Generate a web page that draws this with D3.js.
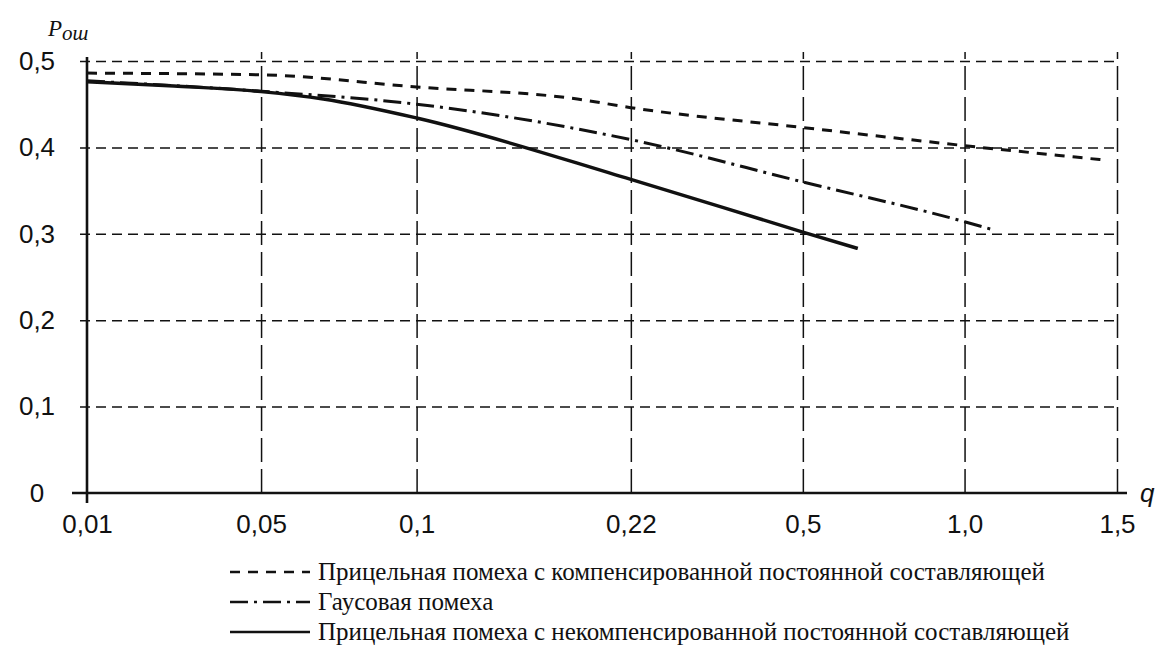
<!DOCTYPE html>
<html>
<head>
<meta charset="utf-8">
<script src="https://cdn.jsdelivr.net/npm/d3@7"></script>
<style>
  html, body { margin: 0; padding: 0; background: #fff; }
  svg { display: block; }
  .tick-label { font-family: "Liberation Sans", Arial, sans-serif; font-size: 26px; fill: #111; }
  .legend-text { font-family: "Liberation Serif", "Times New Roman", serif; font-size: 25px; fill: #111; }
</style>
</head>
<body>
<svg id="chart" width="1164" height="652"></svg>
<script>
// Значения оси q (неравномерная шкала, как на рисунке)
const qTicks = [0.01, 0.05, 0.1, 0.22, 0.5, 1.0, 1.5];
const qLabels = ["0,01", "0,05", "0,1", "0,22", "0,5", "1,0", "1,5"];
const pTicks = [0, 0.1, 0.2, 0.3, 0.4, 0.5];
const pLabels = ["0", "0,1", "0,2", "0,3", "0,4", "0,5"];

// Прицельная помеха с компенсированной постоянной составляющей
const compensated = [
  { q: 0.01, p: 0.486 }, { q: 0.05, p: 0.484 }, { q: 0.1, p: 0.470 },
  { q: 0.19, p: 0.456 }, { q: 0.22, p: 0.446 }, { q: 0.5, p: 0.423 },
  { q: 1.0, p: 0.402 }, { q: 1.47, p: 0.385 }
];
// Гаусовая помеха
const gaussian = [
  { q: 0.01, p: 0.477 }, { q: 0.05, p: 0.465 }, { q: 0.1, p: 0.450 },
  { q: 0.22, p: 0.409 }, { q: 0.5, p: 0.360 }, { q: 1.0, p: 0.314 },
  { q: 1.1, p: 0.304 }
];
// Прицельная помеха с некомпенсированной постоянной составляющей
const uncompensated = [
  { q: 0.01, p: 0.476 }, { q: 0.03, p: 0.471 }, { q: 0.05, p: 0.4645 },
  { q: 0.07, p: 0.456 }, { q: 0.1, p: 0.434 }, { q: 0.22, p: 0.363 },
  { q: 0.5, p: 0.302 }, { q: 0.67, p: 0.283 }
];

const legendItems = [
  { label: "Прицельная помеха с компенсированной постоянной составляющей", dash: "10,8" },
  { label: "Гаусовая помеха", dash: "18,6,3,6" },
  { label: "Прицельная помеха с некомпенсированной постоянной составляющей", dash: null }
];

const svg = d3.select("#chart");
const plotLeft = 87, plotRight = 1117, plotTop = 61, plotBottom = 493;
const plotW = plotRight - plotLeft;

// шкала по q на рисунке неравномерная — кусочно-линейная
const xStops = [0, 0.169, 0.320, 0.528, 0.695, 0.852, 1];
const x = d3.scaleLinear().domain(qTicks).range(xStops.map(f => plotLeft + f * plotW));
const y = d3.scaleLinear().domain([0, 0.5]).range([plotBottom, plotTop]);

// вертикальная сетка + подписи q
const xAxis = svg.append("g")
  .attr("transform", `translate(0,${plotBottom})`)
  .call(d3.axisBottom(x).tickValues(qTicks)
    .tickFormat((d, i) => qLabels[i])
    .tickSize(-(plotBottom - 52)).tickPadding(22));
xAxis.select(".domain").remove();
xAxis.selectAll(".tick line")
  .attr("stroke", "#111").attr("stroke-width", 1.5)
  .attr("stroke-dasharray", "24,7")
  .attr("display", (d, i) => i === 0 ? "none" : null);
xAxis.selectAll(".tick text").attr("class", "tick-label").attr("fill", null);

// горизонтальная сетка + подписи P
const yAxis = svg.append("g")
  .attr("transform", `translate(80,0)`)
  .call(d3.axisLeft(y).tickValues(pTicks)
    .tickFormat((d, i) => pLabels[i])
    .tickSize(-(plotRight - 80)));
yAxis.select(".domain").remove();
yAxis.selectAll(".tick line")
  .attr("stroke", "#111").attr("stroke-width", 1.5)
  .attr("stroke-dasharray", "10,6")
  .attr("display", d => d === 0 ? "none" : null);
yAxis.selectAll(".tick text")
  .attr("class", "tick-label").attr("fill", null)
  .attr("x", 37 - 80).attr("text-anchor", "middle");

// оси
svg.append("line").attr("x1", plotLeft).attr("x2", plotLeft).attr("y1", 57).attr("y2", 503)
  .attr("stroke", "#111").attr("stroke-width", 2.6);
svg.append("line").attr("x1", 72).attr("x2", 1127).attr("y1", plotBottom).attr("y2", plotBottom)
  .attr("stroke", "#111").attr("stroke-width", 2.4);

// подписи осей
const pTitle = svg.append("text").attr("x", 48).attr("y", 36)
  .attr("font-family", "'Liberation Serif', 'Times New Roman', serif")
  .attr("font-style", "italic").attr("fill", "#111");
pTitle.append("tspan").attr("font-size", 23).text("P");
pTitle.append("tspan").attr("font-size", 21).attr("dy", 4).text("ош");

svg.append("text").attr("x", 1140).attr("y", 502)
  .attr("font-family", "'Liberation Sans', Arial, sans-serif")
  .attr("font-style", "italic").attr("font-size", 26).attr("fill", "#111")
  .text("q");

// кривые
const line = d3.line().x(d => x(d.q)).y(d => y(d.p)).curve(d3.curveMonotoneX);
const series = [
  { data: compensated, dash: legendItems[0].dash, width: 3 },
  { data: gaussian, dash: legendItems[1].dash, width: 3 },
  { data: uncompensated, dash: null, width: 3.4 }
];
svg.append("g").selectAll("path").data(series).join("path")
  .attr("d", d => line(d.data))
  .attr("fill", "none").attr("stroke", "#111")
  .attr("stroke-width", d => d.width)
  .attr("stroke-dasharray", d => d.dash);

// легенда
const legend = svg.append("g").selectAll("g").data(legendItems).join("g")
  .attr("transform", (d, i) => `translate(230,${572 + i * 30})`);
legend.append("line").attr("x1", 0).attr("x2", 80).attr("y1", 0).attr("y2", 0)
  .attr("stroke", "#111").attr("stroke-width", 2.4)
  .attr("stroke-dasharray", d => d.dash);
legend.append("text").attr("class", "legend-text")
  .attr("x", 88).attr("y", 8).text(d => d.label);
</script>
</body>
</html>
